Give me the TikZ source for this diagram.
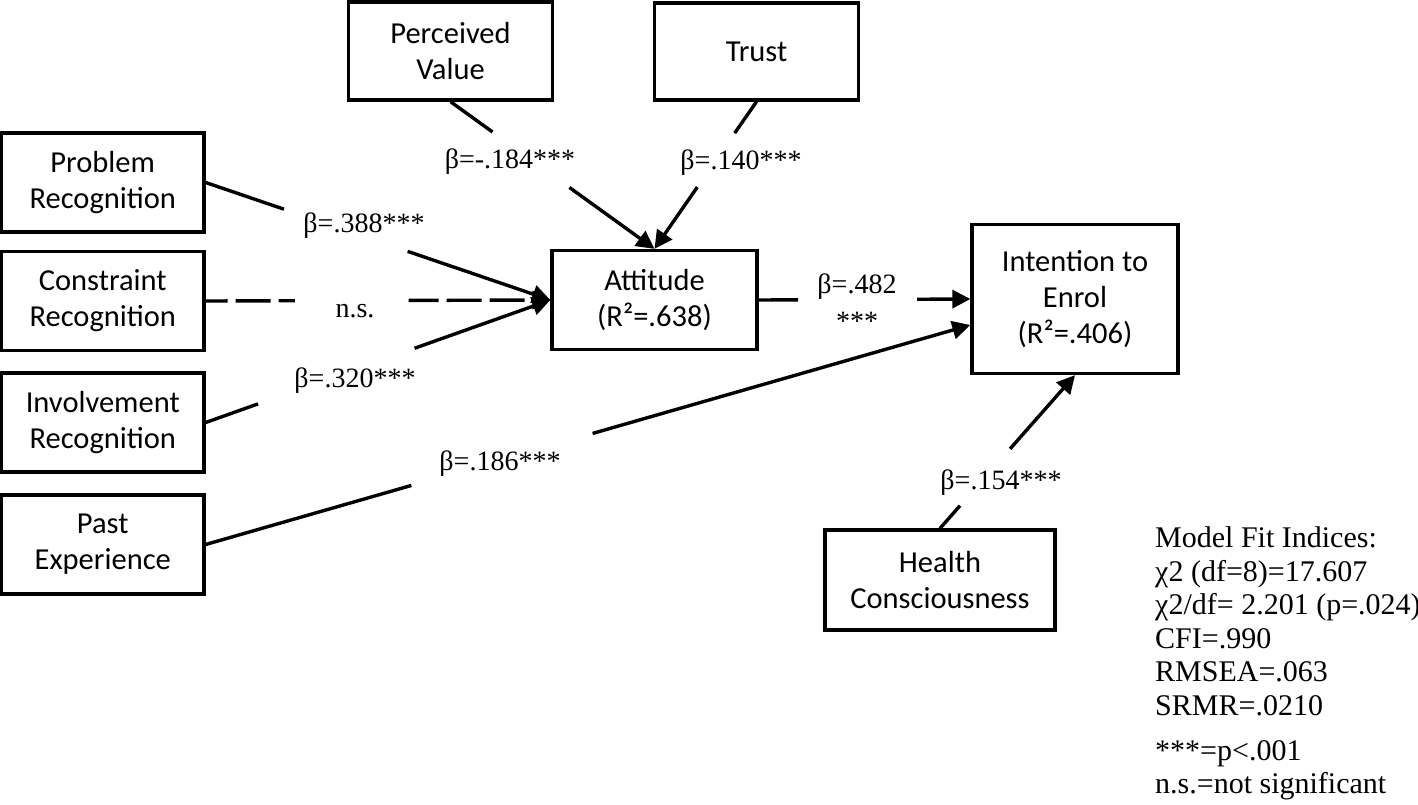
\documentclass[tikz,border=0pt]{standalone}
\usepackage{fontspec}
\setmainfont{Liberation Serif}
\newfontfamily\boxfont{Carlito}
\usetikzlibrary{arrows.meta,calc}
\begin{document}
\begin{tikzpicture}[x=1pt,y=-1pt,
  box/.style={draw, line width=3.3pt, rectangle, font=\boxfont\fontsize{30.5}{36}\selectfont, align=center, inner sep=0pt},
  conn/.style={line width=3.4pt},
  arr/.style={conn, -{Triangle[length=18pt,width=18pt]}},
  dashedconn/.style={dash pattern=on 35pt off 8pt},
  lbl/.style={font=\fontsize{28}{36}\selectfont, anchor=base, inner sep=0pt},
]
\useasboundingbox (0,0) rectangle (1418,804);

% boxes
\node[box, minimum width=204pt, minimum height=98pt] (pv) at (450.5,51) {Perceived\\Value};
\node[box, minimum width=204pt, minimum height=97pt] (trust) at (756.5,51.5) {Trust};
\node[box, minimum width=202.5pt, minimum height=99pt] (pr) at (102.75,182.5) {Problem\\Recognition};
\node[box, minimum width=202.5pt, minimum height=99pt] (cr) at (102.75,301) {Constraint\\Recognition};
\node[box, minimum width=202.5pt, minimum height=99pt] (ir) at (102.75,422.5) {Involvement\\Recognition};
\node[box, minimum width=202.5pt, minimum height=99pt] (pe) at (102.75,544.5) {Past\\Experience};
\node[box, minimum width=205pt, minimum height=99pt] (att) at (654.5,300) {Attitude\\(R²=.638)};
\node[box, minimum width=206pt, minimum height=149pt] (int) at (1075,299) {Intention to\\Enrol\\(R²=.406)};
\node[box, minimum width=230pt, minimum height=100pt] (hc) at (940,580) {Health\\Consciousness};
\coordinate (intin) at ($(int.west)+(0,26)$);

% connectors
\draw[conn] (pv.south) -- ($(pv.south)!0.206!(att.north)$);
\draw[arr] ($(pv.south)!0.583!(att.north)$) -- (att.north);
\draw[conn] (trust.south) -- ($(trust.south)!0.214!(att.north)$);
\draw[arr] ($(trust.south)!0.58!(att.north)$) -- (att.north);
\draw[conn] (pr.east) -- ($(pr.east)!0.227!(att.west)$);
\draw[arr] ($(pr.east)!0.586!(att.west)$) -- (att.west);
\draw[conn, dashedconn, dash phase=13pt] (cr.east) -- ($(cr.east)!0.259!(att.west)$);
\draw[arr, dashedconn, dash phase=5pt] ($(cr.east)!0.589!(att.west)$) -- (att.west);
\draw[conn] (ir.east) -- ($(ir.east)!0.152!(att.west)$);
\draw[arr] ($(ir.east)!0.606!(att.west)$) -- (att.west);
\draw[conn] (pe.east) -- ($(pe.east)!0.269!(intin)$);
\draw[arr] ($(pe.east)!0.506!(intin)$) -- (intin);
\draw[conn] (att.east) -- ($(att.east)!0.186!(int.west)$);
\draw[arr] ($(att.east)!0.749!(int.west)$) -- (int.west);
\draw[conn] (hc.north) -- ($(hc.north)!0.148!(int.south)$);
\draw[arr] ($(hc.north)!0.519!(int.south)$) -- (int.south);

% labels
\node[lbl] (lpv) at (510,168) {β=-.184***};
\node[lbl] (ltr) at (741,169) {β=.140***};
\node[lbl] (lpr) at (364,232) {β=.388***};
\node[lbl] (lcr) at (355,317) {n.s.};
\node[lbl] (lir) at (355,387) {β=.320***};
\node[lbl] (lpe) at (500,470) {β=.186***};
\node[lbl] (lat) at (857,293) {β=.482};
\node[lbl] (lats) at (857,330) {***};
\node[lbl] (lhc) at (1001,489) {β=.154***};

% model fit
\node[font=\fontsize{30}{33.6}\selectfont, align=left, anchor=north west, inner sep=0pt] (fit) at (1155,526.5)
  {Model Fit Indices:\\χ2 (df=8)=17.607\\χ2/df= 2.201 (p=.024)\\CFI=.990\\RMSEA=.063\\SRMR=.0210\\[11pt]***=p<.001\\n.s.=not significant};
\end{tikzpicture}
\end{document}
